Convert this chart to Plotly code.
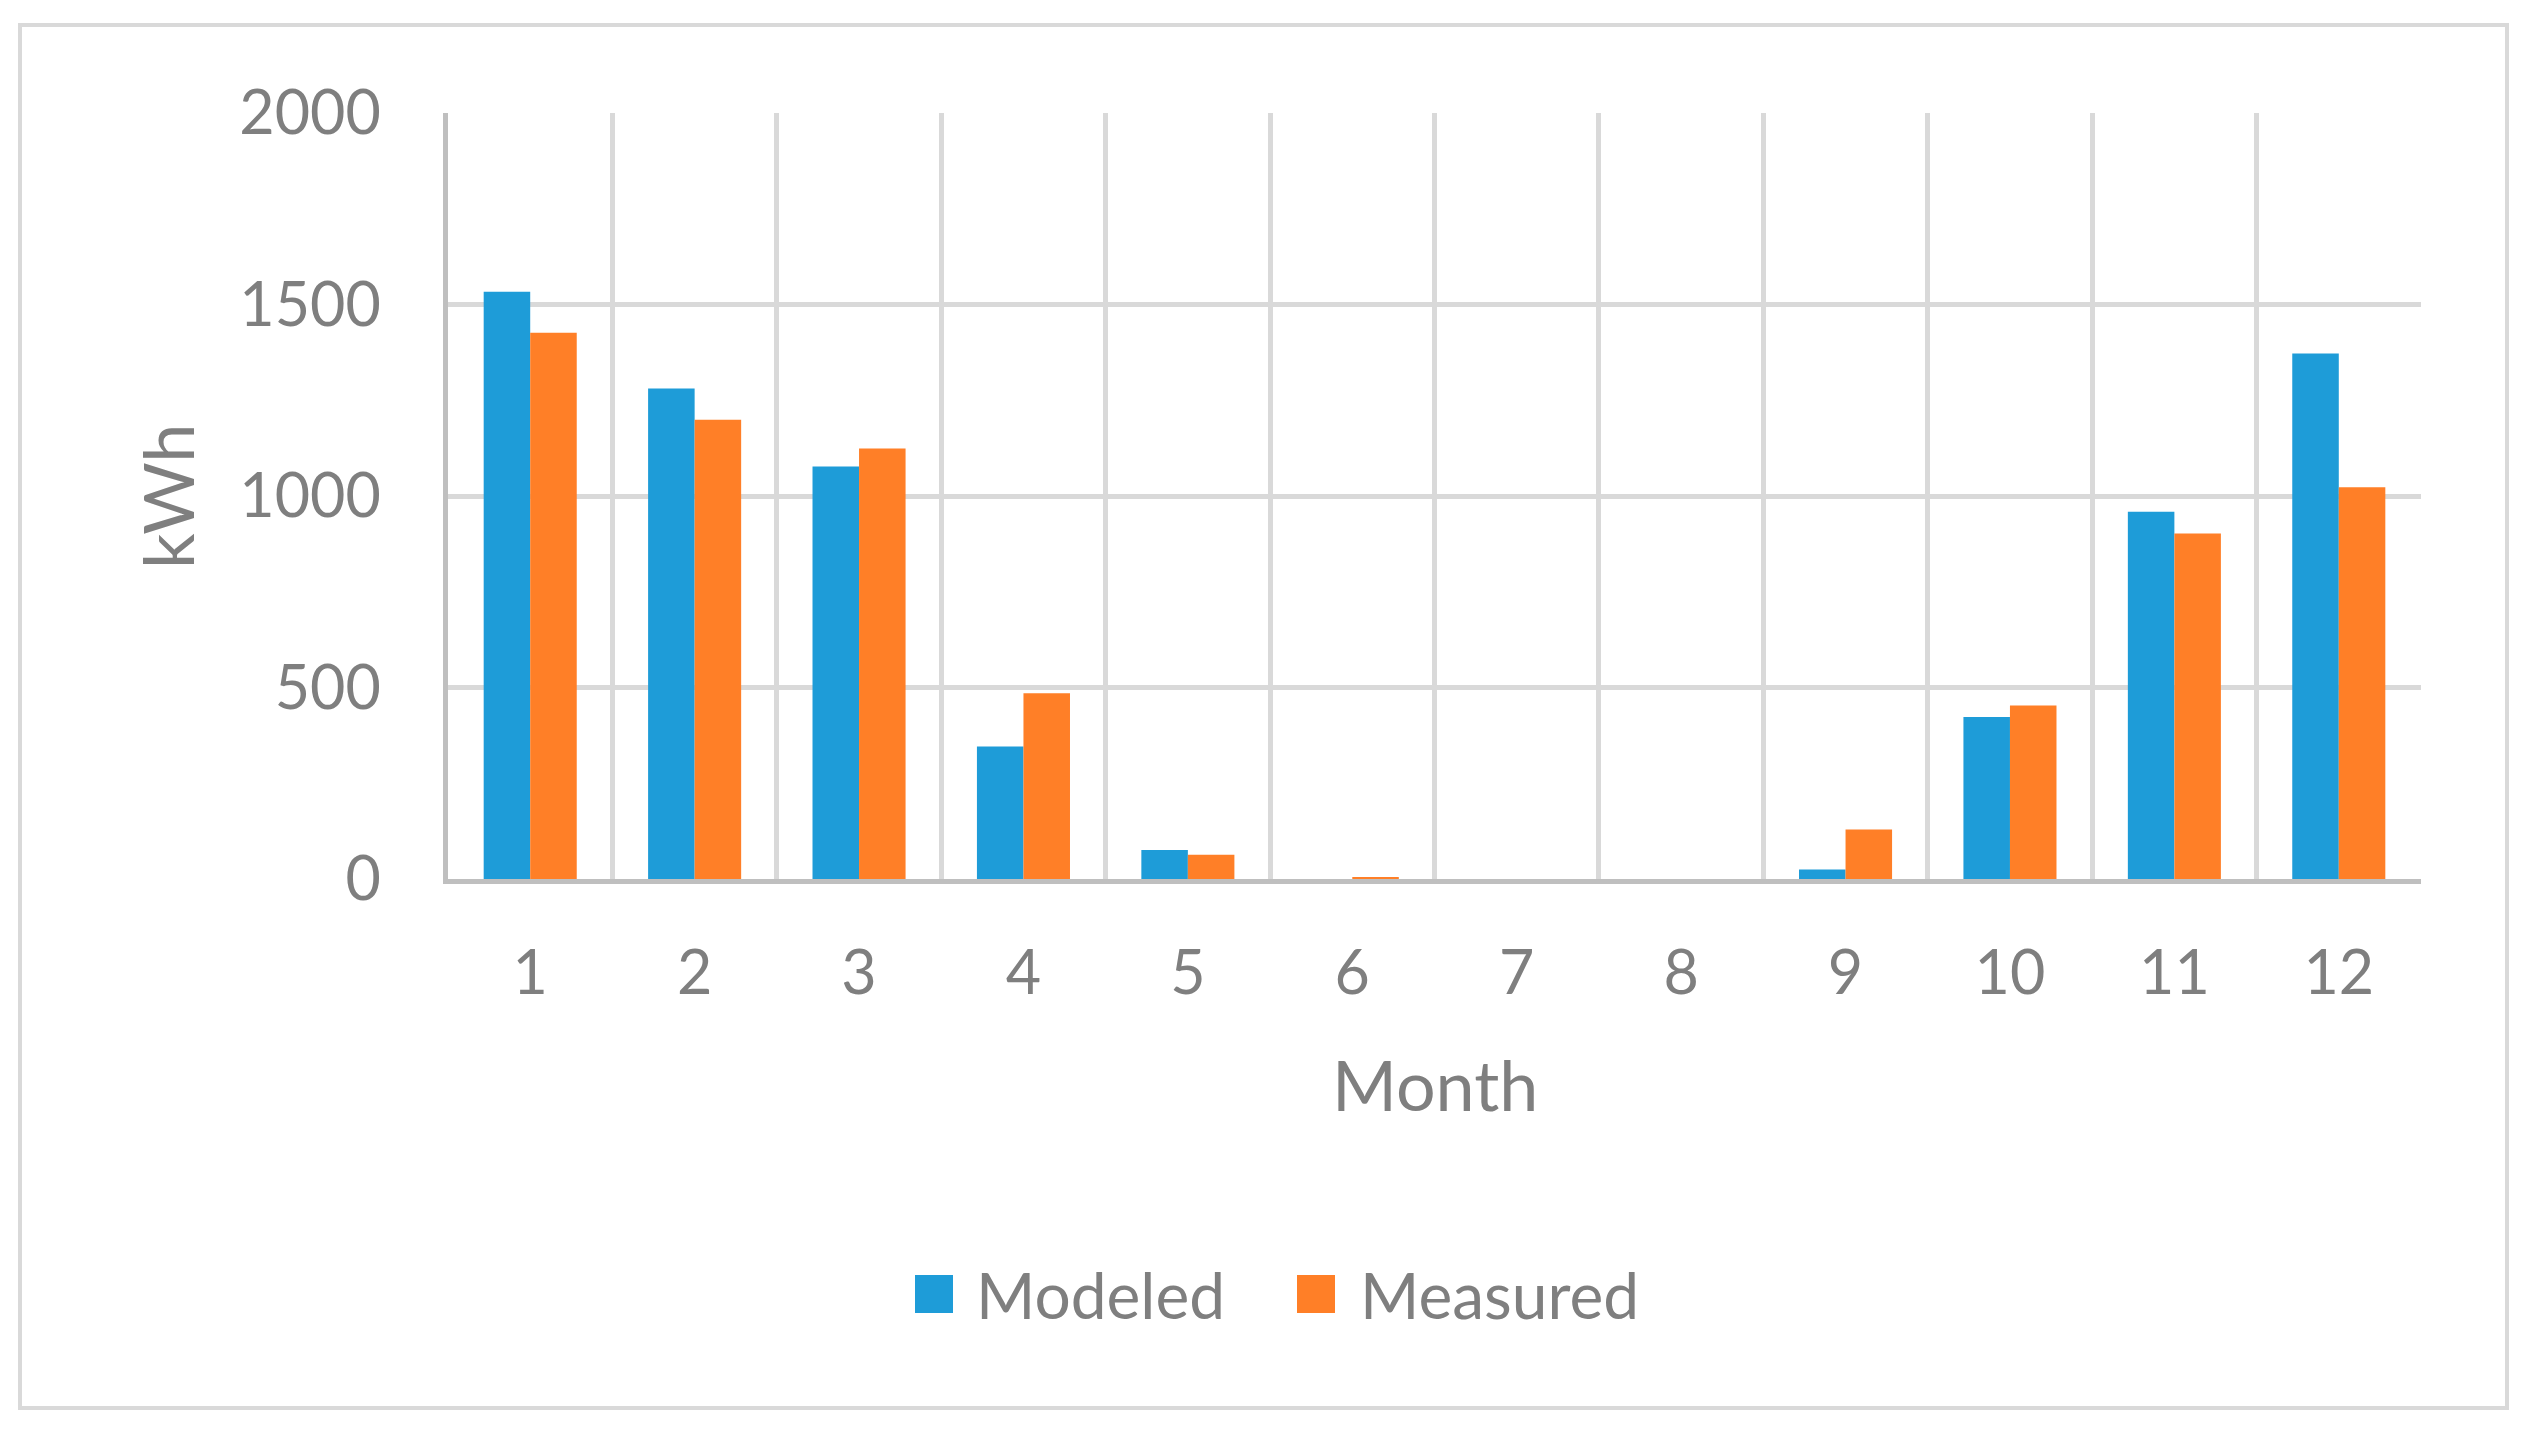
import plotly.graph_objects as go

# ---- data ----
months = [1, 2, 3, 4, 5, 6, 7, 8, 9, 10, 11, 12]
month_labels = [str(m) for m in months]
series_names = ["Modeled", "Measured"]
modeled = [1533, 1281, 1077, 346, 76, 0, 0, 0, 25, 423, 959, 1372]
measured = [1426, 1199, 1124, 485, 63, 5, 0, 0, 129, 453, 902, 1023]
y_ticks = [0, 500, 1000, 1500, 2000]

colors = ["#1E9CD8", "#FF7F27"]
text_color = "#7F7F7F"
grid_color = "#D9D9D9"
axis_color = "#BFBFBF"
FONT = "Lato"

OFF = 8  # page body margin in the browser
W, H = 2529 - 2 * OFF, 1434 - 2 * OFF
# plot area in reference-page pixels
L, R, T, B = 448 - OFF, 2421 - OFF, 113 - OFF, 879 - OFF


def px(x):
    return (x - OFF - L) / (R - L)


def py(y):
    return (B - (y - OFF)) / (B - T)


fig = go.Figure()
for name, vals, c in zip(series_names, [modeled, measured], colors):
    fig.add_trace(go.Bar(x=months, y=vals, name=name, marker=dict(color=c, line=dict(width=0)),
                         showlegend=False))

fig.update_layout(
    width=W, height=H,
    margin=dict(l=L, r=W - R, t=T, b=H - B, autoexpand=False),
    paper_bgcolor="white", plot_bgcolor="white",
    barmode="group", bargap=0.434, bargroupgap=0,
    font=dict(family=FONT, color=text_color, size=61),
    xaxis=dict(
        range=[0.5, 12.5], tickmode="array", tickvals=months, ticktext=month_labels,
        showgrid=False, zeroline=False, showline=True, linecolor=axis_color, linewidth=5,
        ticks="", tickfont=dict(size=61, color=text_color), ticklabelstandoff=37,
        minor=dict(tickvals=[m - 0.5 for m in months] + [12.5], showgrid=True,
                   gridcolor=grid_color, gridwidth=5, ticks=""),
        automargin=False,
    ),
    yaxis=dict(
        range=[0, 2000], tickmode="array", tickvals=y_ticks, ticktext=[str(v) for v in y_ticks],
        showgrid=True, gridcolor=grid_color, gridwidth=5, zeroline=False,
        showline=True, linecolor=axis_color, linewidth=5, ticks="",
        tickfont=dict(size=61, color=text_color), ticklabelstandoff=50,
        automargin=False,
    ),
)

# axis titles
fig.add_annotation(text="Month", xref="paper", yref="paper", x=px(1435), y=py(1084),
                   showarrow=False, font=dict(size=70, color=text_color, family=FONT),
                   xanchor="center", yanchor="middle")
fig.add_annotation(text="kWh", xref="paper", yref="paper", x=px(167), y=py(497),
                   showarrow=False, textangle=-90, font=dict(size=70, color=text_color, family=FONT),
                   xanchor="center", yanchor="middle")

# outer chart border
fig.add_shape(type="rect", xref="paper", yref="paper", x0=px(20), x1=px(2507), y0=py(1408), y1=py(25),
              line=dict(color=grid_color, width=4), fillcolor="rgba(0,0,0,0)", layer="below")

# legend (drawn manually for large square keys)
legend_items = [(915, 974), (1297, 1358)]
for (sx, tx), name, c in zip(legend_items, series_names, colors):
    fig.add_shape(type="rect", xref="paper", yref="paper", x0=px(sx), x1=px(sx + 38),
                  y0=py(1313), y1=py(1275), line=dict(width=0), fillcolor=c)
    fig.add_annotation(text=name, xref="paper", yref="paper", x=px(tx), y=py(1294),
                       showarrow=False, xanchor="left", yanchor="middle",
                       font=dict(size=64, color=text_color, family=FONT))

fig.write_html("out.html")
